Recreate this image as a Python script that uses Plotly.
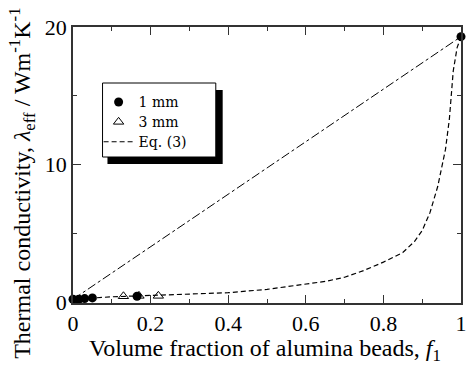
import plotly.graph_objects as go

# 1 mm beads (measured)
f_1mm = [0.0, 0.015, 0.03, 0.05, 0.165, 1.0]
k_1mm = [0.2, 0.2, 0.25, 0.3, 0.42, 19.3]
# 3 mm beads (measured)
f_3mm = [0.13, 0.17, 0.22]
k_3mm = [0.42, 0.45, 0.45]
# Eq. (3) model curve
f_eq = [0.0, 0.05, 0.1, 0.2, 0.3, 0.4, 0.5, 0.6, 0.65, 0.7, 0.75, 0.8, 0.85,
        0.88, 0.9, 0.92, 0.94, 0.96, 0.97, 0.98, 0.99, 1.0]
k_eq = [0.2, 0.3, 0.38, 0.48, 0.58, 0.68, 0.92, 1.3, 1.5, 1.8, 2.3, 2.9, 3.6,
        4.4, 5.2, 6.5, 8.4, 11.1, 13.3, 16.8, 18.5, 19.3]
# Parallel (dash-dot) line
f_par = [0.0, 1.0]
k_par = [0.2, 19.3]

FONT = "Liberation Serif"
LEG = "<span style='font-size:14px;font-family:DejaVu Serif'>{}</span>"

fig = go.Figure()
fig.add_trace(go.Scatter(x=f_par, y=k_par, mode="lines", showlegend=False,
                         line=dict(color="black", width=1, dash="dashdot")))
fig.add_trace(go.Scatter(x=f_eq, y=k_eq, mode="lines", name=LEG.format("Eq. (3)"),
                         line=dict(color="black", width=1.2, dash="5px,3px")))
fig.add_trace(go.Scatter(x=f_3mm, y=k_3mm, mode="markers", name=LEG.format("3 mm"),
                         marker=dict(symbol="triangle-up-open", size=9,
                                     color="black", line=dict(width=1))))
fig.add_trace(go.Scatter(x=f_1mm, y=k_1mm, mode="markers", name=LEG.format("1 mm"),
                         cliponaxis=False,
                         marker=dict(symbol="circle", size=9, color="black")))

def px2x(p):
    return (p - 73) / 394

def px2y(p):
    return (303 - p) / 276

fig.add_shape(type="rect", xref="paper", yref="paper",
              x0=px2x(108), x1=px2x(225), y0=px2y(164), y1=px2y(90),
              fillcolor="black", line=dict(width=0), layer="above")
fig.add_shape(type="rect", xref="paper", yref="paper",
              x0=px2x(103), x1=px2x(218), y0=px2y(157), y1=px2y(83),
              fillcolor="white", line=dict(color="black", width=1), layer="above")

fig.add_annotation(xref="paper", yref="paper", x=px2x(268), y=px2y(350),
                   text="Volume fraction of alumina beads, <i>f</i><sub>1</sub>",
                   showarrow=False, font=dict(family=FONT, size=24, color="black"),
                   xanchor="center", yanchor="middle")
fig.add_annotation(xref="paper", yref="paper", x=px2x(21), y=px2y(183),
                   text="Thermal conductivity, <i>λ</i><sub>eff</sub> / Wm<sup>-1</sup>K<sup>-1</sup>",
                   showarrow=False, textangle=-90,
                   font=dict(family=FONT, size=24, color="black"),
                   xanchor="center", yanchor="middle")

axis_common = dict(showgrid=False, zeroline=False, showline=True, linecolor="#333",
                   linewidth=1.5, mirror="ticks", ticks="inside", ticklen=8,
                   tickwidth=1, tickcolor="#333",
                   tickfont=dict(family=FONT, size=22, color="black"))

fig.update_xaxes(range=[0, 1], tickvals=[0, 0.2, 0.4, 0.6, 0.8, 1],
                 ticktext=["0", "0.2", "0.4", "0.6", "0.8", "1"],
                 minor=dict(dtick=0.1, ticks="inside", ticklen=4, tickcolor="#333"),
                 **axis_common)
fig.update_yaxes(range=[-0.07, 20], tickvals=[0, 10, 20],
                 minor=dict(dtick=5, ticks="inside", ticklen=4, tickcolor="#333"),
                 **axis_common)

fig.update_layout(
    width=471, height=369,
    margin=dict(l=73, r=4, t=27, b=66),
    paper_bgcolor="white", plot_bgcolor="white",
    showlegend=True,
    legend=dict(x=px2x(99), y=px2y(87), xanchor="left", yanchor="top",
                bgcolor="rgba(0,0,0,0)", borderwidth=0, traceorder="reversed",
                font=dict(family=FONT, size=13, color="black")),
)

fig.write_html("out.html")
